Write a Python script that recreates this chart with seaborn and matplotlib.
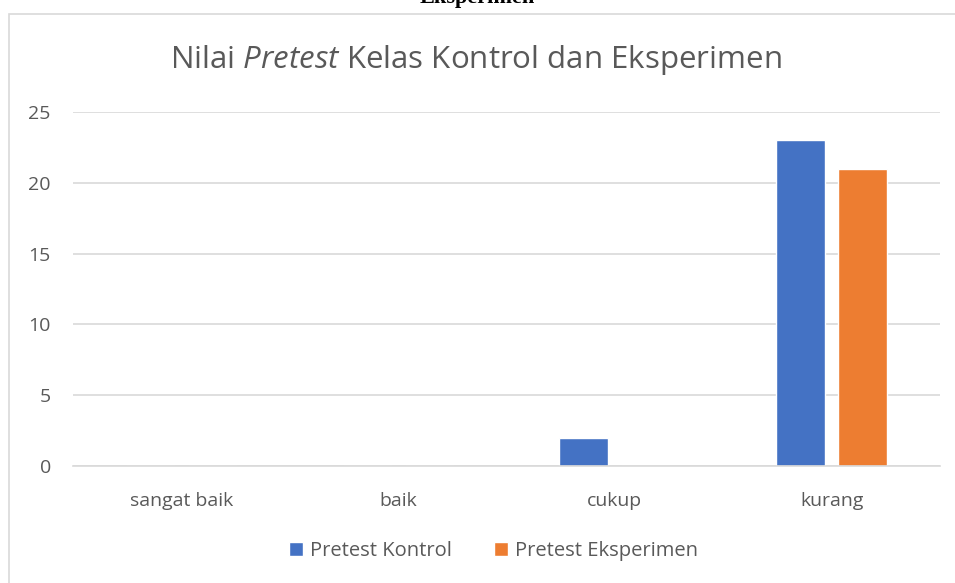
import pandas as pd
import seaborn as sns
import matplotlib.pyplot as plt
from matplotlib.patches import Rectangle

# Datos del gráfico
kategori = ['sangat baik', 'baik', 'cukup', 'kurang']
pretest_kontrol = [0, 0, 2, 23]
pretest_eksperimen = [0, 0, 0, 21]
seri = ['Pretest Kontrol', 'Pretest Eksperimen']
yticks = [0, 5, 10, 15, 20, 25]

df = pd.DataFrame({
    'kategori': kategori * 2,
    'nilai': pretest_kontrol + pretest_eksperimen,
    'seri': [seri[0]] * len(kategori) + [seri[1]] * len(kategori),
})

sns.set_style('white')
plt.rcParams['font.family'] = ['Open Sans', 'DejaVu Sans']
plt.rcParams['mathtext.fontset'] = 'custom'
plt.rcParams['mathtext.rm'] = 'Open Sans'
plt.rcParams['mathtext.it'] = 'Open Sans:italic'

W, H = 955, 583
fig = plt.figure(figsize=(W / 100, H / 100), dpi=100)

# marco del gráfico (recortado por la derecha y abajo)
fig.patches.append(Rectangle((9 / W, -0.1), 1.2, 1.1 - 14 / H,
                             transform=fig.transFigure, fill=False,
                             edgecolor='#D9D9D9', linewidth=1.2))

# título del documento, cortado arriba como en el original
fig.text(477 / W, 1 - 3 / H, 'Eksperimen', ha='center', va='baseline',
         family='Liberation Serif', fontweight='bold', fontsize=16, color='black')

ax = fig.add_axes([73 / W, 117 / H, (940 - 73) / W, (466 - 112) / H])
sns.barplot(data=df, x='kategori', y='nilai', hue='seri', order=kategori,
            hue_order=seri, palette=['#4472C4', '#ED7D31'],
            width=0.572, gap=0.21, errorbar=None, ax=ax, saturation=1)

ax.set_xlim(-0.5, 3.5)
ax.set_ylim(0, 25)
ax.set_yticks(yticks)
ax.yaxis.grid(True, color='#D9D9D9', linewidth=1.2)
ax.set_axisbelow(True)
for s in ['top', 'right', 'left']:
    ax.spines[s].set_visible(False)
ax.spines['bottom'].set_color('#D9D9D9')
ax.spines['bottom'].set_linewidth(1.2)
ax.tick_params(axis='both', length=0, colors='#595959', labelsize=14)
ax.tick_params(axis='y', pad=16)
ax.tick_params(axis='x', pad=19)
ax.set_xlabel('')
ax.set_ylabel('')

fig.text(476 / W, 1 - 60 / H, 'Nilai $\\it{Pretest}$ Kelas Kontrol dan Eksperimen',
         ha='center', va='center', fontsize=22.5, color='#595959')

ax.legend(loc='center', bbox_to_anchor=(0.485, -0.24), ncol=2, frameon=False,
          fontsize=14.5, labelcolor='#595959', handlelength=0.7, handleheight=0.7,
          handletextpad=0.35, columnspacing=2.1)

fig.savefig('out.png', dpi=100)
